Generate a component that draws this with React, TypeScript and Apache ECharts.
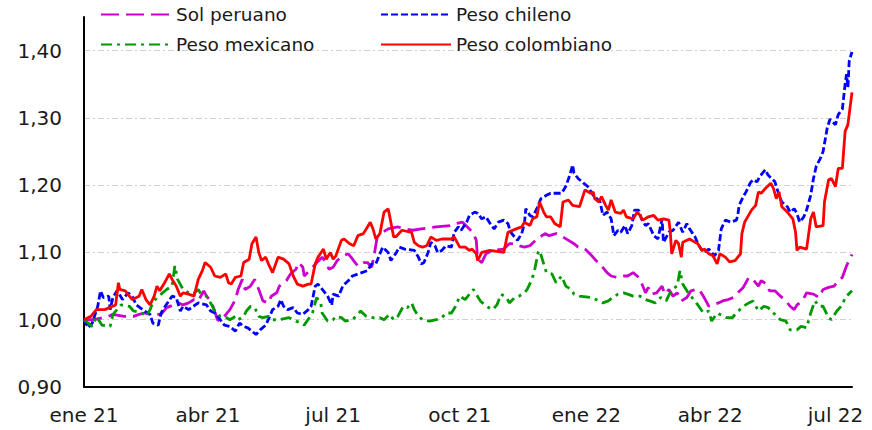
import React, { useEffect, useRef } from "react";
import * as echarts from "echarts";

// ---- data ----
const startDate = "2021-01-01";
const endDate = "2022-07-13";

const xTickDates = ["2021-01-01", "2021-04-01", "2021-07-01", "2021-10-01", "2022-01-01", "2022-04-01", "2022-07-01"];
const xTickLabels = ["ene 21", "abr 21", "jul 21", "oct 21", "ene 22", "abr 22", "jul 22"];

const seriesNames = ["Sol peruano", "Peso chileno", "Peso mexicano", "Peso colombiano"];

const solPeruano: [string, number][] = [
  ["2021-01-01",1.000],["2021-01-08",1.000],["2021-01-19",1.005],["2021-01-22",1.008],["2021-01-30",1.005],["2021-02-06",1.005],["2021-02-10",1.008],["2021-02-14",1.010],["2021-02-18",1.008],["2021-02-26",1.008],["2021-03-02",1.018],["2021-03-07",1.022],["2021-03-11",1.025],["2021-03-14",1.022],["2021-03-18",1.025],["2021-03-22",1.030],["2021-03-25",1.028],["2021-03-29",1.043],["2021-03-31",1.035],["2021-04-03",1.028],["2021-04-05",1.018],["2021-04-08",1.000],["2021-04-10",0.998],["2021-04-13",1.005],["2021-04-17",1.015],["2021-04-21",1.030],["2021-04-23",1.045],["2021-04-26",1.060],["2021-04-28",1.045],["2021-05-02",1.050],["2021-05-05",1.060],["2021-05-08",1.045],["2021-05-11",1.028],["2021-05-15",1.025],["2021-05-17",1.035],["2021-05-21",1.040],["2021-05-23",1.050],["2021-05-28",1.058],["2021-05-31",1.068],["2021-06-04",1.075],["2021-06-06",1.085],["2021-06-09",1.078],["2021-06-10",1.065],["2021-06-17",1.080],["2021-06-23",1.093],["2021-06-26",1.085],["2021-06-28",1.075],["2021-07-01",1.078],["2021-07-04",1.088],["2021-07-08",1.095],["2021-07-12",1.098],["2021-07-14",1.093],["2021-07-17",1.085],["2021-07-19",1.080],["2021-07-23",1.085],["2021-07-26",1.085],["2021-07-29",1.078],["2021-07-31",1.098],["2021-08-02",1.123],["2021-08-06",1.130],["2021-08-10",1.135],["2021-08-17",1.138],["2021-08-22",1.135],["2021-08-28",1.133],["2021-09-03",1.135],["2021-09-14",1.138],["2021-09-24",1.140],["2021-09-28",1.143],["2021-10-03",1.145],["2021-10-08",1.135],["2021-10-11",1.128],["2021-10-13",1.118],["2021-10-14",1.090],["2021-10-17",1.085],["2021-10-20",1.098],["2021-10-25",1.103],["2021-11-02",1.105],["2021-11-06",1.113],["2021-11-10",1.113],["2021-11-13",1.110],["2021-11-17",1.108],["2021-11-21",1.110],["2021-11-26",1.120],["2021-12-02",1.128],["2021-12-05",1.125],["2021-12-10",1.128],["2021-12-15",1.123],["2021-12-19",1.118],["2021-12-23",1.113],["2021-12-26",1.108],["2021-12-31",1.105],["2022-01-05",1.095],["2022-01-08",1.088],["2022-01-12",1.080],["2022-01-16",1.070],["2022-01-19",1.065],["2022-01-23",1.063],["2022-01-28",1.065],["2022-01-31",1.065],["2022-02-04",1.070],["2022-02-08",1.063],["2022-02-10",1.055],["2022-02-13",1.040],["2022-02-15",1.048],["2022-02-17",1.038],["2022-02-21",1.040],["2022-02-25",1.050],["2022-02-27",1.038],["2022-03-02",1.045],["2022-03-05",1.035],["2022-03-08",1.040],["2022-03-11",1.028],["2022-03-15",1.033],["2022-03-18",1.043],["2022-03-22",1.045],["2022-03-24",1.045],["2022-03-27",1.035],["2022-03-31",1.020],["2022-04-03",1.022],["2022-04-07",1.025],["2022-04-10",1.028],["2022-04-14",1.030],["2022-04-18",1.033],["2022-04-21",1.040],["2022-04-25",1.048],["2022-04-29",1.063],["2022-05-02",1.060],["2022-05-06",1.050],["2022-05-08",1.058],["2022-05-12",1.053],["2022-05-14",1.043],["2022-05-18",1.043],["2022-05-22",1.035],["2022-05-26",1.028],["2022-05-29",1.020],["2022-06-01",1.015],["2022-06-03",1.022],["2022-06-07",1.028],["2022-06-10",1.040],["2022-06-15",1.038],["2022-06-19",1.033],["2022-06-22",1.045],["2022-06-26",1.048],["2022-06-30",1.050],["2022-07-03",1.058],["2022-07-06",1.063],["2022-07-09",1.080],["2022-07-13",1.097]
];

const pesoChileno: [string, number][] = [
  ["2021-01-01",1.000],["2021-01-04",0.988],["2021-01-07",0.995],["2021-01-11",1.020],["2021-01-13",1.043],["2021-01-15",1.033],["2021-01-19",1.035],["2021-01-20",1.015],["2021-01-22",1.033],["2021-01-25",1.043],["2021-01-29",1.030],["2021-02-02",1.040],["2021-02-05",1.035],["2021-02-08",1.022],["2021-02-14",1.013],["2021-02-18",1.008],["2021-02-20",0.995],["2021-02-24",0.992],["2021-02-26",1.010],["2021-03-01",1.020],["2021-03-06",1.035],["2021-03-09",1.033],["2021-03-12",1.013],["2021-03-14",1.020],["2021-03-18",1.015],["2021-03-25",1.025],["2021-03-31",1.022],["2021-04-03",1.013],["2021-04-06",1.010],["2021-04-10",1.000],["2021-04-13",0.992],["2021-04-17",0.990],["2021-04-21",0.983],["2021-04-24",0.995],["2021-04-27",0.990],["2021-04-30",0.988],["2021-05-06",0.978],["2021-05-09",0.985],["2021-05-13",0.992],["2021-05-16",1.005],["2021-05-18",1.015],["2021-05-22",1.020],["2021-05-24",1.030],["2021-05-26",1.020],["2021-05-29",1.015],["2021-06-02",1.018],["2021-06-05",1.010],["2021-06-09",1.008],["2021-06-13",1.015],["2021-06-15",1.020],["2021-06-18",1.050],["2021-06-20",1.053],["2021-06-24",1.043],["2021-06-27",1.035],["2021-06-30",1.022],["2021-07-01",1.038],["2021-07-05",1.035],["2021-07-08",1.050],["2021-07-12",1.058],["2021-07-15",1.065],["2021-07-19",1.068],["2021-07-26",1.073],["2021-07-29",1.083],["2021-08-01",1.083],["2021-08-03",1.093],["2021-08-06",1.108],["2021-08-10",1.100],["2021-08-12",1.088],["2021-08-16",1.100],["2021-08-18",1.108],["2021-08-22",1.105],["2021-08-29",1.103],["2021-09-01",1.093],["2021-09-03",1.083],["2021-09-05",1.085],["2021-09-08",1.100],["2021-09-10",1.115],["2021-09-13",1.110],["2021-09-15",1.100],["2021-09-18",1.103],["2021-09-21",1.110],["2021-09-25",1.108],["2021-09-27",1.130],["2021-09-30",1.138],["2021-10-02",1.133],["2021-10-06",1.145],["2021-10-08",1.155],["2021-10-12",1.160],["2021-10-14",1.158],["2021-10-17",1.150],["2021-10-20",1.153],["2021-10-24",1.140],["2021-10-26",1.135],["2021-10-29",1.145],["2021-11-02",1.148],["2021-11-05",1.143],["2021-11-07",1.130],["2021-11-12",1.118],["2021-11-15",1.128],["2021-11-17",1.143],["2021-11-18",1.165],["2021-11-21",1.155],["2021-11-23",1.153],["2021-11-26",1.165],["2021-11-29",1.180],["2021-12-03",1.185],["2021-12-06",1.188],["2021-12-14",1.188],["2021-12-17",1.198],["2021-12-20",1.215],["2021-12-22",1.230],["2021-12-23",1.218],["2021-12-26",1.210],["2021-12-30",1.203],["2022-01-02",1.198],["2022-01-06",1.185],["2022-01-11",1.175],["2022-01-13",1.155],["2022-01-16",1.160],["2022-01-19",1.150],["2022-01-21",1.125],["2022-01-24",1.133],["2022-01-26",1.130],["2022-01-29",1.140],["2022-01-31",1.128],["2022-02-03",1.140],["2022-02-05",1.163],["2022-02-08",1.163],["2022-02-10",1.150],["2022-02-13",1.140],["2022-02-15",1.143],["2022-02-19",1.125],["2022-02-22",1.120],["2022-02-25",1.150],["2022-02-26",1.115],["2022-03-02",1.130],["2022-03-05",1.133],["2022-03-09",1.145],["2022-03-12",1.130],["2022-03-15",1.143],["2022-03-17",1.135],["2022-03-21",1.123],["2022-03-23",1.113],["2022-03-27",1.100],["2022-03-31",1.105],["2022-04-04",1.095],["2022-04-07",1.103],["2022-04-09",1.135],["2022-04-12",1.148],["2022-04-16",1.145],["2022-04-20",1.148],["2022-04-21",1.155],["2022-04-22",1.170],["2022-04-25",1.183],["2022-04-27",1.190],["2022-04-30",1.203],["2022-05-02",1.208],["2022-05-05",1.205],["2022-05-07",1.213],["2022-05-11",1.223],["2022-05-13",1.215],["2022-05-18",1.205],["2022-05-21",1.185],["2022-05-23",1.175],["2022-05-27",1.168],["2022-05-29",1.160],["2022-06-01",1.165],["2022-06-03",1.158],["2022-06-05",1.145],["2022-06-08",1.153],["2022-06-10",1.163],["2022-06-13",1.185],["2022-06-15",1.210],["2022-06-17",1.228],["2022-06-20",1.240],["2022-06-22",1.250],["2022-06-25",1.285],["2022-06-27",1.298],["2022-07-01",1.290],["2022-07-03",1.305],["2022-07-06",1.313],["2022-07-08",1.350],["2022-07-09",1.365],["2022-07-10",1.345],["2022-07-11",1.385],["2022-07-13",1.398]
];

const pesoMexicano: [string, number][] = [
  ["2021-01-01",1.000],["2021-01-07",0.990],["2021-01-10",1.005],["2021-01-14",0.992],["2021-01-20",0.990],["2021-01-22",1.008],["2021-01-28",1.022],["2021-02-03",1.020],["2021-02-06",1.013],["2021-02-12",1.010],["2021-02-15",1.005],["2021-02-18",1.015],["2021-02-20",1.025],["2021-02-23",1.033],["2021-02-26",1.038],["2021-03-02",1.045],["2021-03-06",1.050],["2021-03-08",1.080],["2021-03-10",1.060],["2021-03-14",1.045],["2021-03-18",1.040],["2021-03-21",1.038],["2021-03-25",1.045],["2021-03-27",1.038],["2021-03-31",1.035],["2021-04-03",1.025],["2021-04-06",1.013],["2021-04-10",1.005],["2021-04-13",1.005],["2021-04-17",1.000],["2021-04-21",1.005],["2021-04-23",1.000],["2021-04-27",1.005],["2021-04-29",1.013],["2021-05-02",1.020],["2021-05-05",1.018],["2021-05-08",1.005],["2021-05-11",1.003],["2021-05-15",1.005],["2021-05-18",1.000],["2021-05-23",1.000],["2021-05-30",1.003],["2021-06-04",0.998],["2021-06-08",0.995],["2021-06-10",0.992],["2021-06-16",1.010],["2021-06-19",1.033],["2021-06-22",1.025],["2021-06-23",1.010],["2021-06-27",0.998],["2021-07-01",1.000],["2021-07-03",1.005],["2021-07-07",1.003],["2021-07-10",0.998],["2021-07-15",1.000],["2021-07-19",1.008],["2021-07-21",1.013],["2021-07-25",1.005],["2021-07-30",1.003],["2021-08-04",1.003],["2021-08-07",1.000],["2021-08-11",1.008],["2021-08-14",1.000],["2021-08-17",1.005],["2021-08-21",1.020],["2021-08-24",1.018],["2021-08-27",1.025],["2021-08-29",1.015],["2021-09-01",1.005],["2021-09-04",1.000],["2021-09-09",0.998],["2021-09-14",1.000],["2021-09-18",1.003],["2021-09-21",1.010],["2021-09-25",1.010],["2021-09-28",1.020],["2021-10-01",1.035],["2021-10-05",1.030],["2021-10-08",1.038],["2021-10-11",1.045],["2021-10-13",1.038],["2021-10-16",1.028],["2021-10-19",1.022],["2021-10-22",1.018],["2021-10-25",1.015],["2021-10-28",1.022],["2021-10-31",1.038],["2021-11-04",1.033],["2021-11-06",1.025],["2021-11-10",1.033],["2021-11-13",1.035],["2021-11-17",1.040],["2021-11-19",1.045],["2021-11-22",1.058],["2021-11-24",1.070],["2021-11-27",1.100],["2021-11-28",1.103],["2021-12-01",1.083],["2021-12-03",1.070],["2021-12-07",1.068],["2021-12-10",1.055],["2021-12-14",1.065],["2021-12-17",1.050],["2021-12-21",1.045],["2021-12-23",1.038],["2021-12-27",1.035],["2022-01-05",1.033],["2022-01-08",1.030],["2022-01-13",1.025],["2022-01-17",1.028],["2022-01-20",1.033],["2022-01-24",1.038],["2022-01-28",1.040],["2022-01-31",1.038],["2022-02-04",1.035],["2022-02-09",1.035],["2022-02-13",1.030],["2022-02-16",1.028],["2022-02-20",1.025],["2022-02-24",1.033],["2022-02-28",1.028],["2022-03-04",1.045],["2022-03-08",1.050],["2022-03-10",1.073],["2022-03-12",1.053],["2022-03-16",1.040],["2022-03-20",1.030],["2022-03-23",1.022],["2022-03-27",1.010],["2022-03-31",1.013],["2022-04-02",0.998],["2022-04-06",1.010],["2022-04-13",1.003],["2022-04-17",1.003],["2022-04-20",1.010],["2022-04-25",1.020],["2022-04-29",1.025],["2022-05-02",1.028],["2022-05-06",1.013],["2022-05-10",1.020],["2022-05-13",1.018],["2022-05-17",1.010],["2022-05-22",1.000],["2022-05-26",0.998],["2022-05-29",0.985],["2022-06-03",0.985],["2022-06-06",0.990],["2022-06-10",0.988],["2022-06-13",1.010],["2022-06-16",1.028],["2022-06-19",1.020],["2022-06-22",1.020],["2022-06-26",1.003],["2022-06-28",1.000],["2022-07-02",1.013],["2022-07-06",1.022],["2022-07-08",1.033],["2022-07-13",1.043]
];

const pesoColombiano: [string, number][] = [
  ["2021-01-01",1.000],["2021-01-06",1.005],["2021-01-10",1.015],["2021-01-16",1.015],["2021-01-24",1.022],["2021-01-26",1.055],["2021-01-27",1.045],["2021-01-31",1.043],["2021-02-05",1.030],["2021-02-10",1.035],["2021-02-12",1.045],["2021-02-15",1.030],["2021-02-18",1.022],["2021-02-21",1.035],["2021-02-23",1.050],["2021-02-25",1.043],["2021-02-28",1.053],["2021-03-04",1.068],["2021-03-06",1.060],["2021-03-09",1.050],["2021-03-12",1.035],["2021-03-14",1.040],["2021-03-18",1.038],["2021-03-22",1.035],["2021-03-25",1.060],["2021-03-28",1.073],["2021-03-30",1.085],["2021-04-03",1.078],["2021-04-06",1.065],["2021-04-10",1.063],["2021-04-14",1.068],["2021-04-16",1.055],["2021-04-18",1.053],["2021-04-21",1.063],["2021-04-25",1.065],["2021-04-27",1.085],["2021-05-01",1.090],["2021-05-03",1.113],["2021-05-06",1.123],["2021-05-08",1.100],["2021-05-10",1.088],["2021-05-13",1.093],["2021-05-15",1.083],["2021-05-18",1.070],["2021-05-22",1.093],["2021-05-26",1.090],["2021-05-30",1.083],["2021-06-02",1.065],["2021-06-05",1.053],["2021-06-09",1.050],["2021-06-13",1.053],["2021-06-15",1.053],["2021-06-18",1.083],["2021-06-20",1.093],["2021-06-24",1.105],["2021-06-26",1.090],["2021-06-29",1.100],["2021-07-01",1.090],["2021-07-03",1.095],["2021-07-07",1.118],["2021-07-09",1.120],["2021-07-13",1.113],["2021-07-16",1.110],["2021-07-19",1.125],["2021-07-23",1.128],["2021-07-28",1.145],["2021-07-30",1.135],["2021-08-01",1.120],["2021-08-04",1.128],["2021-08-07",1.160],["2021-08-10",1.165],["2021-08-11",1.155],["2021-08-14",1.123],["2021-08-16",1.124],["2021-08-20",1.133],["2021-08-27",1.130],["2021-08-29",1.115],["2021-09-01",1.110],["2021-09-04",1.108],["2021-09-07",1.110],["2021-09-10",1.123],["2021-09-14",1.118],["2021-09-18",1.120],["2021-09-25",1.120],["2021-09-27",1.123],["2021-10-01",1.108],["2021-10-05",1.108],["2021-10-08",1.103],["2021-10-10",1.105],["2021-10-13",1.098],["2021-10-14",1.088],["2021-10-17",1.100],["2021-10-23",1.103],["2021-11-02",1.100],["2021-11-05",1.130],["2021-11-11",1.135],["2021-11-15",1.138],["2021-11-17",1.145],["2021-11-21",1.140],["2021-11-23",1.150],["2021-11-26",1.153],["2021-11-28",1.175],["2021-12-01",1.160],["2021-12-03",1.153],["2021-12-06",1.153],["2021-12-09",1.143],["2021-12-13",1.138],["2021-12-15",1.175],["2021-12-19",1.178],["2021-12-22",1.170],["2021-12-27",1.168],["2021-12-31",1.193],["2022-01-04",1.188],["2022-01-06",1.190],["2022-01-07",1.180],["2022-01-10",1.175],["2022-01-12",1.183],["2022-01-15",1.170],["2022-01-17",1.163],["2022-01-19",1.178],["2022-01-22",1.160],["2022-01-26",1.158],["2022-01-28",1.163],["2022-01-30",1.153],["2022-02-04",1.150],["2022-02-07",1.160],["2022-02-09",1.155],["2022-02-11",1.148],["2022-02-15",1.153],["2022-02-19",1.155],["2022-02-22",1.148],["2022-02-26",1.150],["2022-03-02",1.148],["2022-03-03",1.130],["2022-03-04",1.098],["2022-03-07",1.118],["2022-03-09",1.113],["2022-03-11",1.093],["2022-03-12",1.115],["2022-03-17",1.120],["2022-03-21",1.115],["2022-03-23",1.113],["2022-03-26",1.103],["2022-03-28",1.105],["2022-03-31",1.098],["2022-04-03",1.095],["2022-04-06",1.083],["2022-04-08",1.098],["2022-04-12",1.093],["2022-04-15",1.086],["2022-04-19",1.088],["2022-04-23",1.098],["2022-04-24",1.128],["2022-04-26",1.145],["2022-05-01",1.163],["2022-05-04",1.170],["2022-05-06",1.190],["2022-05-08",1.188],["2022-05-11",1.195],["2022-05-15",1.203],["2022-05-17",1.195],["2022-05-19",1.180],["2022-05-21",1.190],["2022-05-23",1.168],["2022-05-27",1.160],["2022-05-31",1.150],["2022-06-02",1.130],["2022-06-03",1.103],["2022-06-05",1.108],["2022-06-10",1.105],["2022-06-13",1.150],["2022-06-15",1.160],["2022-06-17",1.138],["2022-06-22",1.140],["2022-06-23",1.175],["2022-06-26",1.208],["2022-06-28",1.210],["2022-07-01",1.198],["2022-07-03",1.225],["2022-07-06",1.225],["2022-07-08",1.280],["2022-07-10",1.290],["2022-07-13",1.338]
];

// ---- helpers ----
const DAY = 86400000;
const parseUTC = (s: string) => {
  const [y, m, d] = s.split("-").map(Number);
  return Date.UTC(y, m - 1, d);
};
const t0 = parseUTC(startDate);
const toIndex = (s: string) => Math.round((parseUTC(s) - t0) / DAY);
const nDays = toIndex(endDate) + 1;
const categories: string[] = [];
for (let i = 0; i < nDays; i++) categories.push(new Date(t0 + i * DAY).toISOString().slice(0, 10));
const tickLabelMap: Record<string, string> = {};
xTickDates.forEach((d, i) => (tickLabelMap[d] = xTickLabels[i]));

const FONT = "'DejaVu Sans', Verdana, sans-serif";
const TEXT = "#1a1a1a";

export default function App() {
  const ref = useRef<HTMLDivElement>(null);
  useEffect(() => {
    if (!ref.current) return;
    const chart = echarts.init(ref.current, undefined, { renderer: "svg" });
    const legendCommon = {
      itemWidth: 70,
      itemHeight: 14,
      padding: 0,
      selectedMode: false,
      itemStyle: { opacity: 0, borderWidth: 0 },
      textStyle: { fontSize: 18.5, fontFamily: FONT, color: TEXT },
    };
    const mk = (name: string, data: [string, number][], color: string, width: number, type: any) => ({
      name,
      type: "line",
      data: data.map(([d, v]) => [toIndex(d), v]),
      symbol: "none",
      showSymbol: false,
      lineStyle: { color, width, type },
      itemStyle: { color },
      emphasis: { disabled: true },
    });
    chart.setOption({
      animation: false,
      backgroundColor: "#ffffff",
      textStyle: { fontFamily: FONT },
      grid: { left: 84, right: 20, top: 17, bottom: 43, containLabel: false },
      legend: [
        { ...legendCommon, data: [seriesNames[0]], left: 100, top: 5 },
        { ...legendCommon, data: [seriesNames[1]], left: 380, top: 5 },
        { ...legendCommon, data: [seriesNames[2]], left: 100, top: 35 },
        { ...legendCommon, data: [seriesNames[3]], left: 380, top: 35 },
      ],
      xAxis: {
        type: "category",
        data: categories,
        boundaryGap: false,
        axisLine: { show: true, lineStyle: { color: "#000", width: 2 } },
        axisTick: { show: false },
        splitLine: { show: false },
        axisLabel: {
          interval: (_i: number, v: string) => v in tickLabelMap,
          formatter: (v: string) => tickLabelMap[v] || "",
          fontSize: 20,
          fontFamily: FONT,
          color: TEXT,
          margin: 18,
        },
      },
      yAxis: {
        type: "value",
        min: 0.9,
        max: 1.45,
        interval: 0.1,
        axisLine: { show: true, lineStyle: { color: "#000", width: 2 } },
        axisTick: { show: false },
        splitLine: {
          show: true,
          showMinLine: false,
          showMaxLine: false,
          lineStyle: { color: "#cfcfcf", width: 1, type: [6, 3, 2, 3] },
        },
        axisLabel: {
          formatter: (v: number) => (v > 1.41 ? "" : v.toFixed(2).replace(".", ",")),
          showMaxLabel: false,
          fontSize: 20,
          fontFamily: FONT,
          color: TEXT,
          margin: 22,
        },
      },
      series: [
        mk(seriesNames[0], solPeruano, "#cc00cc", 2.8, [18, 7]),
        mk(seriesNames[1], pesoChileno, "#0000ff", 2.8, [7, 3]),
        mk(seriesNames[2], pesoMexicano, "#009900", 2.8, [11, 5, 3, 5]),
        mk(seriesNames[3], pesoColombiano, "#ff0000", 2.8, "solid"),
      ],
    });
    return () => chart.dispose();
  }, []);
  return <div ref={ref} style={{ position: "fixed", left: 0, top: 0, width: 872, height: 430 }} />;
}
